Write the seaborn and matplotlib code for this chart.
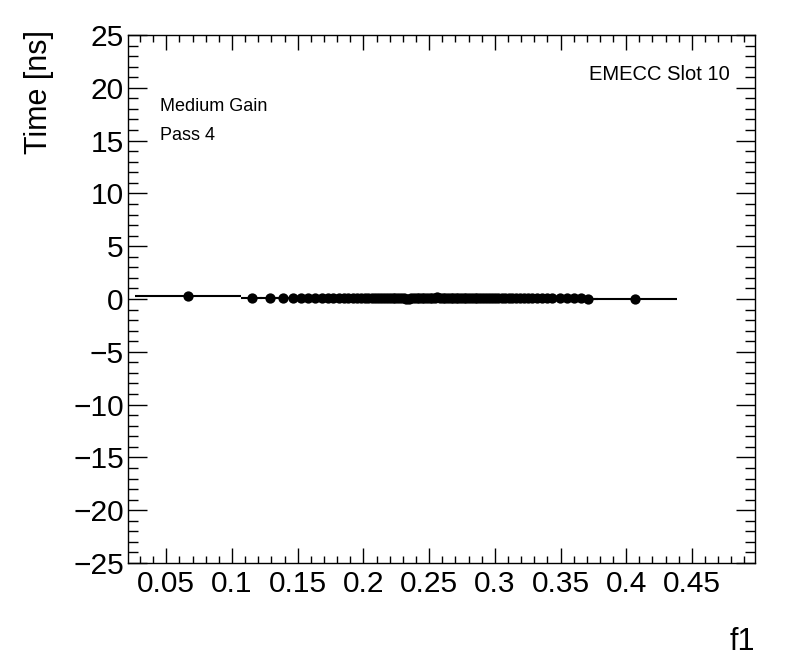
import matplotlib
matplotlib.use("Agg")
import matplotlib.pyplot as plt
from matplotlib.ticker import MultipleLocator
import seaborn as sns
import pandas as pd

sns.set_theme(style="ticks")
plt.rcParams["font.family"] = ["Liberation Sans", "DejaVu Sans"]
plt.rcParams["text.color"] = "black"
plt.rcParams["axes.labelcolor"] = "black"

# f1 values of the points
f1 = [0.0667, 0.1151, 0.1293, 0.1391, 0.1463, 0.1526, 0.1581, 0.1635, 0.1683,
      0.1729, 0.1771, 0.1812, 0.1850, 0.1885, 0.1921, 0.1954, 0.1984, 0.2012,
      0.2039, 0.2064, 0.2088, 0.2111, 0.2134, 0.2157, 0.2179, 0.2201, 0.2222,
      0.2243, 0.2264, 0.2286, 0.2306, 0.2327, 0.2347, 0.2366, 0.2386, 0.2406,
      0.2426, 0.2445, 0.2465, 0.2485, 0.2505, 0.2524, 0.2544, 0.2564, 0.2584,
      0.2603, 0.2623, 0.2643, 0.2663, 0.2682, 0.2702, 0.2722, 0.2742, 0.2762,
      0.2783, 0.2803, 0.2824, 0.2846, 0.2867, 0.2889, 0.2911, 0.2934, 0.2957,
      0.2980, 0.3004, 0.3028, 0.3053, 0.3079, 0.3106, 0.3133, 0.3161, 0.3190,
      0.3220, 0.3252, 0.3286, 0.3321, 0.3357, 0.3395, 0.3439, 0.3496, 0.3552,
      0.3602, 0.3653, 0.3709, 0.4066]

# time values [ns]
time_ns = [0.25, 0.10, 0.10, 0.10, 0.10, 0.10, 0.10, 0.10, 0.10,
           0.10, 0.10, 0.10, 0.10, 0.10, 0.10, 0.10, 0.10, 0.10,
           0.10, 0.10, 0.10, 0.10, 0.10, 0.10, 0.10, 0.10, 0.10,
           0.10, 0.08, 0.08, 0.06, 0.04, 0.04, 0.06, 0.08, 0.10,
           0.12, 0.12, 0.12, 0.10, 0.10, 0.10, 0.12, 0.15, 0.12,
           0.10, 0.10, 0.08, 0.08, 0.08, 0.08, 0.08, 0.08, 0.08,
           0.08, 0.08, 0.08, 0.06, 0.06, 0.06, 0.06, 0.06, 0.06,
           0.06, 0.06, 0.06, 0.06, 0.06, 0.06, 0.06, 0.06, 0.06,
           0.06, 0.06, 0.06, 0.05, 0.05, 0.05, 0.05, 0.05, 0.05,
           0.05, 0.05, 0.04, -0.02]

# half widths along f1
f1_err = [0.0403] + [0.008] * 83 + [0.032]

tick_pos = [0.05, 0.1, 0.15, 0.2, 0.25, 0.3, 0.35, 0.4, 0.45]
tick_txt = ["0.05", "0.1", "0.15", "0.2", "0.25", "0.3", "0.35", "0.4", "0.45"]

df = pd.DataFrame({"f1": f1, "time": time_ns, "xerr": f1_err})

fig = plt.figure(figsize=(7.96, 6.72), dpi=100)
ax = fig.add_axes([0.1608, 0.1622, 0.7877, 0.7857])

ax.errorbar(df["f1"], df["time"], xerr=df["xerr"], fmt="none",
            ecolor="black", elinewidth=1.5, capsize=0, zorder=2)
sns.scatterplot(data=df, x="f1", y="time", ax=ax, color="black", s=55,
                edgecolor="black", linewidth=0, zorder=3, legend=False)

ax.set_xlim(0.0209, 0.498)
ax.set_ylim(-25, 25)

ax.xaxis.set_minor_locator(MultipleLocator(0.01))
ax.yaxis.set_major_locator(MultipleLocator(5))
ax.yaxis.set_minor_locator(MultipleLocator(1))
ax.set_xticks(tick_pos)
ax.set_xticklabels(tick_txt)

ax.tick_params(axis="both", which="both", direction="in", top=True, right=True,
               colors="black", labelsize=21.5, width=1)
ax.tick_params(axis="x", which="major", length=11, pad=5)
ax.tick_params(axis="x", which="minor", length=5)
ax.tick_params(axis="y", which="major", length=13.5, pad=3)
ax.tick_params(axis="y", which="minor", length=7)

for side in ax.spines.values():
    side.set_color("black")
    side.set_linewidth(1)

ax.set_xlabel("f1", fontsize=22, ha="right")
ax.xaxis.set_label_coords(1.0, -0.122)
ax.set_ylabel("Time [ns]", fontsize=22, ha="right")
ax.yaxis.set_label_coords(-0.118, 1.01)

ax.text(0.051, 0.864, "Medium Gain", transform=ax.transAxes, fontsize=13,
        va="center")
ax.text(0.051, 0.809, "Pass 4", transform=ax.transAxes, fontsize=13,
        va="center")
ax.text(0.960, 0.926, "EMECC Slot 10", transform=ax.transAxes, fontsize=14.5,
        ha="right", va="center")

fig.savefig("out.png", dpi=100, facecolor="white")
